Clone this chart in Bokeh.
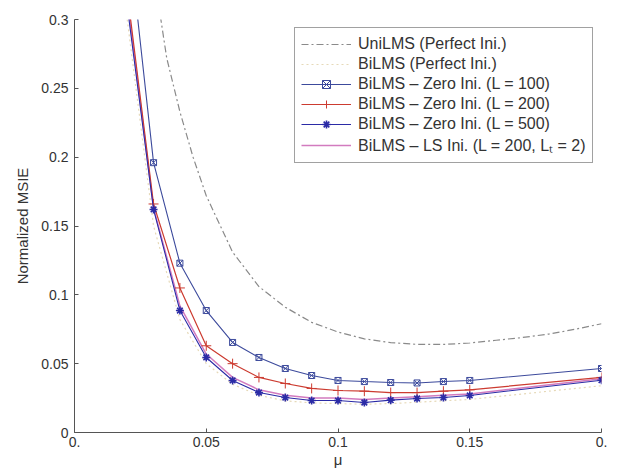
from bokeh.plotting import figure
from bokeh.models import Legend, LegendItem, FixedTicker
from bokeh.embed import file_html
from bokeh.resources import INLINE

# ---- data ----
mu = [0.02, 0.03, 0.04, 0.05, 0.06, 0.07, 0.08, 0.09, 0.10, 0.11, 0.12, 0.13, 0.14, 0.15, 0.20]
bilms_L100 = [0.37, 0.196, 0.123, 0.0886, 0.0654, 0.0545, 0.0465, 0.0414, 0.0378, 0.037, 0.0363, 0.036, 0.037, 0.0378, 0.0465]
bilms_L200 = [0.32, 0.166, 0.105, 0.063, 0.050, 0.040, 0.0356, 0.032, 0.0305, 0.030, 0.029, 0.029, 0.030, 0.031, 0.040]
bilms_L500 = [0.31, 0.162, 0.0886, 0.0545, 0.0378, 0.029, 0.0254, 0.0232, 0.0232, 0.0218, 0.0235, 0.0247, 0.0254, 0.0269, 0.038]
bilms_ls = [0.315, 0.163, 0.092, 0.057, 0.040, 0.031, 0.027, 0.025, 0.025, 0.024, 0.025, 0.026, 0.027, 0.028, 0.039]
bilms_perfect = [0.30, 0.150, 0.082, 0.050, 0.035, 0.027, 0.023, 0.0215, 0.021, 0.0205, 0.021, 0.022, 0.023, 0.024, 0.034]

mu_uni = [0.03, 0.035, 0.04, 0.045, 0.05, 0.06, 0.07, 0.08, 0.09, 0.10, 0.11, 0.12, 0.13, 0.14, 0.15, 0.16, 0.17, 0.18, 0.19, 0.20]
unilms = [0.335, 0.272, 0.233, 0.20, 0.172, 0.131, 0.106, 0.091, 0.080, 0.073, 0.068, 0.0653, 0.064, 0.064, 0.065, 0.067, 0.069, 0.0715, 0.075, 0.079]

x_ticks = [0, 0.05, 0.1, 0.15, 0.2]
x_tick_labels = ["0.", "0.05", "0.1", "0.15", "0."]
y_ticks = [0, 0.05, 0.1, 0.15, 0.2, 0.25, 0.3]
y_tick_labels = ["0", "0.05", "0.1", "0.15", "0.2", "0.25", "0.3"]

labels = [
    "UniLMS (Perfect Ini.)",
    "BiLMS (Perfect Ini.)",
    "BiLMS \u2013 Zero Ini. (L = 100)",
    "BiLMS \u2013 Zero Ini. (L = 200)",
    "BiLMS \u2013 Zero Ini. (L = 500)",
    "BiLMS \u2013 LS Ini. (L = 200, L\u209c = 2)",
]

FONT = "Liberation Sans"
TXT = "#333333"

p = figure(width=628, height=470, x_range=(0, 0.2), y_range=(0, 0.3),
           output_backend="svg", toolbar_location=None,
           min_border_left=74, min_border_right=27, min_border_top=19, min_border_bottom=38)
p.outline_line_color = None
p.grid.visible = False
p.background_fill_color = "white"

r_uni = p.line(mu_uni, unilms, line_color="#8a8a8a", line_width=1.2, line_dash="7 3 2 3")
r_perf = p.line(mu, bilms_perfect, line_color="#e6d9b8", line_width=1.2, line_dash="2 3")

c100 = "#3c4a9c"
c200 = "#cc3b30"
c500 = "#2b2ba6"
cls = "#d27bbf"

r_ls = p.line(mu, bilms_ls, line_color=cls, line_width=1.5)

r100 = p.line(mu, bilms_L100, line_color=c100, line_width=1.1)
m100 = p.scatter(mu, bilms_L100, marker="square_x", size=6, line_color=c100, fill_color=None, line_width=1)
r200 = p.line(mu, bilms_L200, line_color=c200, line_width=1.2)
m200 = p.scatter(mu, bilms_L200, marker="cross", size=10, line_color=c200, line_width=1)
r500 = p.line(mu, bilms_L500, line_color=c500, line_width=1.1)
m500 = p.scatter(mu, bilms_L500, marker="asterisk", size=8, line_color=c500, line_width=1.6)

# axes
for ax in (p.xaxis[0], p.yaxis[0]):
    ax.axis_line_color = "#555555"
    ax.major_tick_line_color = "#555555"
    ax.major_tick_in = 4
    ax.major_tick_out = 0
    ax.minor_tick_line_color = None
    ax.major_label_text_font = FONT
    ax.major_label_text_font_size = "14px"
    ax.major_label_text_color = TXT
    ax.axis_label_text_font = FONT
    ax.axis_label_text_font_size = "15px"
    ax.axis_label_text_font_style = "normal"
    ax.axis_label_text_color = TXT

p.xaxis.ticker = FixedTicker(ticks=x_ticks)
p.yaxis.ticker = FixedTicker(ticks=y_ticks)
p.xaxis.major_label_overrides = {t: l for t, l in zip(x_ticks, x_tick_labels)}
p.yaxis.major_label_overrides = {t: l for t, l in zip(y_ticks, y_tick_labels)}
p.xaxis.major_label_standoff = 4
p.yaxis.major_label_standoff = 6
p.xaxis.axis_label = "\u03bc"
p.yaxis.axis_label = "Normalized MSIE"
p.xaxis.axis_label_standoff = 1
p.yaxis.axis_label_standoff = 7

items = [
    LegendItem(label=labels[0], renderers=[r_uni]),
    LegendItem(label=labels[1], renderers=[r_perf]),
    LegendItem(label=labels[2], renderers=[r100, m100]),
    LegendItem(label=labels[3], renderers=[r200, m200]),
    LegendItem(label=labels[4], renderers=[r500, m500]),
    LegendItem(label=labels[5], renderers=[r_ls]),
]
legend = Legend(items=items, location=(220, 269), margin=0,
                label_text_font=FONT, label_text_font_size="16px", label_text_color=TXT,
                glyph_width=50, glyph_height=20, label_height=20, label_standoff=7,
                spacing=0, padding=6, border_line_color="#444444", border_line_width=1,
                background_fill_color="white", background_fill_alpha=1.0)
p.add_layout(legend)

open("out.html", "w").write(file_html(p, INLINE))
